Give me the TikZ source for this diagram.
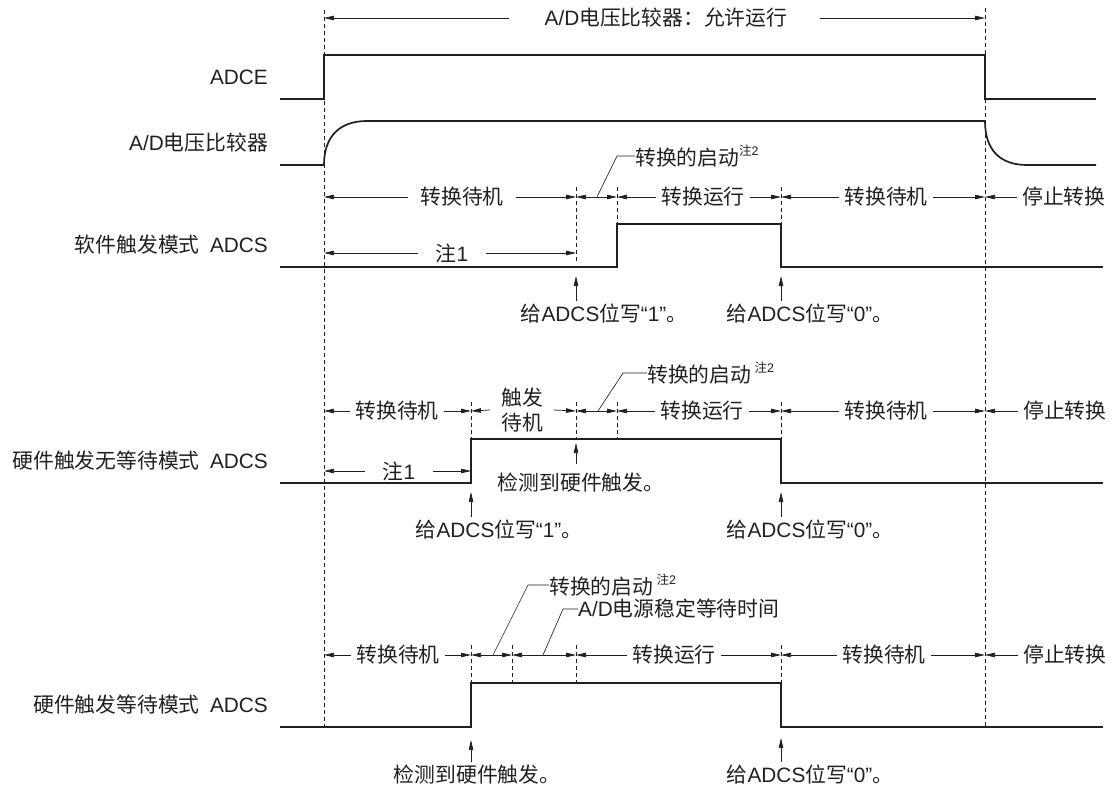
\documentclass[tikz,border=0pt]{standalone}
\usepackage{fontspec}
\setmainfont{Noto Sans CJK SC}
\newfontfamily\latinfont{Liberation Sans}
\usetikzlibrary{arrows.meta}
\definecolor{ink}{HTML}{231F20}
\newcommand{\lbfont}{\fontsize{20.8}{25}\selectfont}
\newcommand{\lt}[1]{{\latinfont #1}}
\newcommand{\noteii}{\raisebox{0.5em}{\fontsize{12.5}{12.5}\selectfont 注\lt{2}}}

\begin{document}
\begin{tikzpicture}[x=1pt,y=-1pt,
  sig/.style={draw=ink,line width=1.7pt},
  guide/.style={draw=ink,line width=0.8pt,dash pattern=on 4pt off 3pt},
  dim/.style={draw=ink,line width=0.75pt,-{Triangle[length=10pt,width=4.5pt]}},
  both/.style={draw=ink,line width=0.75pt,{Triangle[length=10pt,width=4.5pt]}-{Triangle[length=10pt,width=4.5pt]}},
  lead/.style={draw=ink,line width=0.65pt},
  lbl/.style={font=\lbfont,text=ink,inner sep=0pt},
  seg/.style={lbl,inner xsep=5pt},
  signame/.style={lbl,anchor=east}]
  \useasboundingbox (0,0) rectangle (1113,789);

  % signal names
  \node[signame] (nadce) at (268,77) {\lt{ADCE}};
  \node[signame] (ncmp) at (268,143) {\lt{A/D}电压比较器};
  \node[signame] (nsw) at (268,245) {软件触发模式\hspace{0.5em}\lt{ADCS}};
  \node[signame] (nhw) at (268,461) {硬件触发无等待模式\hspace{0.5em}\lt{ADCS}};
  \node[signame] (nhww) at (268,705) {硬件触发等待模式\hspace{0.5em}\lt{ADCS}};

  % guide lines
  \draw[guide] (324,10) -- (324,728);
  \draw[guide] (985,8) -- (985,728);
  \draw[guide] (576,187) -- (576,263);
  \foreach \x in {617,781} \draw[guide] (\x,187) -- (\x,224);
  \foreach \x in {471,576,617,781} \draw[guide] (\x,402) -- (\x,439);
  \foreach \x in {471,512,576,781} \draw[guide] (\x,645) -- (\x,683);

  % waveforms
  \draw[sig] (280,99) -- (324,99) -- (324,55) -- (985,55) -- (985,99) -- (1096,99);
  \draw[sig] (280,165) -- (324,165) .. controls (324,136) and (340,121) .. (367,121)
    -- (985,121) .. controls (985,150) and (1000,165) .. (1027,165) -- (1096,165);
  \draw[sig] (280,267) -- (617,267) -- (617,224) -- (781,224) -- (781,267) -- (1103,267);
  \draw[sig] (280,483) -- (471,483) -- (471,439) -- (781,439) -- (781,483) -- (1103,483);
  \draw[sig] (280,727) -- (471,727) -- (471,683) -- (781,683) -- (781,727) -- (1103,727);

  % enable span
  \coordinate (topl) at (324,18);
  \coordinate (topr) at (985,18);
  \node[seg] (run) at (666,18) {\lt{A/D}电压比较器：允许运行};
  \draw[dim] ([xshift=-30pt]run.west) -- (topl);
  \draw[dim] ([xshift=27pt]run.east) -- (topr);

  % software trigger
  \coordinate (a0) at (324,197); \coordinate (a1) at (576,197);
  \coordinate (a2) at (617,197); \coordinate (a3) at (781,197);
  \coordinate (a4) at (985,197); \coordinate (a12) at (597,197);
  \node[seg,inner xsep=12pt] (s1w) at (462,197) {转换待机};
  \node[seg] (s1r) at (703,197) {转换运行};
  \node[seg] (s1w2) at (886,197) {转换待机};
  \node[seg,anchor=west] (s1s) at (1017,197) {停止转换};
  \draw[dim] (s1w.west) -- (a0); \draw[dim] (s1w.east) -- (a1);
  \draw[both] (a1) -- (a2);
  \draw[dim] (s1r.west) -- (a2); \draw[dim] (s1r.east) -- (a3);
  \draw[dim] (s1w2.west) -- (a3); \draw[dim] (s1w2.east) -- (a4);
  \draw[dim] (s1s.west) -- (a4);
  \node[lbl,anchor=west] (s1st) at (635,156) {转换的启动\noteii};
  \draw[lead] (a12) -- ([xshift=-18pt]s1st.west) -- (s1st.west);
  \coordinate (n10) at (324,253); \coordinate (n11) at (576,253);
  \node[seg,inner xsep=18pt] (s1n) at (452,253) {注\lt{1}};
  \draw[dim] (s1n.west) -- (n10); \draw[dim] (s1n.east) -- (n11);
  \coordinate (w11) at (576,276); \coordinate (w10) at (781,276);
  \node[lbl] (s1b1) at (604,314) {给\lt{ADCS}位写\lt{“1”}。};
  \node[lbl] (s1b0) at (810,314) {给\lt{ADCS}位写\lt{“0”}。};
  \draw[dim] ([yshift=3pt]s1b1.north -| w11) -- (w11);
  \draw[dim] ([yshift=3pt]s1b0.north -| w10) -- (w10);

  % hardware trigger, no wait
  \coordinate (b0) at (324,411); \coordinate (b1) at (471,411);
  \coordinate (b2) at (576,411); \coordinate (b3) at (617,411);
  \coordinate (b4) at (781,411); \coordinate (b5) at (985,411);
  \coordinate (b23) at (598,411);
  \node[seg] (s2w) at (397,411) {转换待机};
  \node[seg,inner xsep=11pt,align=center] (s2t) at (522,410) {触发\\待机};
  \node[seg] (s2r) at (702,411) {转换运行};
  \node[seg] (s2w2) at (886,411) {转换待机};
  \node[seg,anchor=west] (s2s) at (1018,411) {停止转换};
  \draw[dim] (s2w.west) -- (b0); \draw[dim] (s2w.east) -- (b1);
  \draw[dim] (s2t.west) -- (b1); \draw[dim] (s2t.east) -- (b2);
  \draw[both] (b2) -- (b3);
  \draw[dim] (s2r.west) -- (b3); \draw[dim] (s2r.east) -- (b4);
  \draw[dim] (s2w2.west) -- (b4); \draw[dim] (s2w2.east) -- (b5);
  \draw[dim] (s2s.west) -- (b5);
  \node[lbl,anchor=west] (s2st) at (647,373) {转换的启动\,\noteii};
  \draw[lead] (b23) -- ([xshift=-24pt]s2st.west) -- (s2st.west);
  \coordinate (n20) at (324,471); \coordinate (n21) at (471,471);
  \node[seg,inner xsep=18pt] (s2n) at (399,471) {注\lt{1}};
  \draw[dim] (s2n.west) -- (n20); \draw[dim] (s2n.east) -- (n21);
  \coordinate (h2) at (576,443);
  \node[lbl] (s2h) at (581,483) {检测到硬件触发。};
  \draw[dim] ([yshift=9pt]s2h.north -| h2) -- (h2);
  \coordinate (w21) at (471,492); \coordinate (w20) at (781,492);
  \node[lbl] (s2b1) at (499,530) {给\lt{ADCS}位写\lt{“1”}。};
  \node[lbl] (s2b0) at (810,530) {给\lt{ADCS}位写\lt{“0”}。};
  \draw[dim] ([yshift=3pt]s2b1.north -| w21) -- (w21);
  \draw[dim] ([yshift=3pt]s2b0.north -| w20) -- (w20);

  % hardware trigger, wait
  \coordinate (d0) at (324,655); \coordinate (d1) at (471,655);
  \coordinate (d2) at (512,655); \coordinate (d3) at (576,655);
  \coordinate (d4) at (781,655); \coordinate (d5) at (985,655);
  \coordinate (d12) at (493,655); \coordinate (d23) at (543,655);
  \node[seg] (s3w) at (398,655) {转换待机};
  \node[seg] (s3r) at (674,655) {转换运行};
  \node[seg] (s3w2) at (884,655) {转换待机};
  \node[seg,anchor=west] (s3s) at (1018,655) {停止转换};
  \draw[dim] (s3w.west) -- (d0); \draw[dim] (s3w.east) -- (d1);
  \draw[both] (d1) -- (d2); \draw[both] (d2) -- (d3);
  \draw[dim] (s3r.west) -- (d3); \draw[dim] (s3r.east) -- (d4);
  \draw[dim] (s3w2.west) -- (d4); \draw[dim] (s3w2.east) -- (d5);
  \draw[dim] (s3s.west) -- (d5);
  \node[lbl,anchor=west] (s3st) at (549,585) {转换的启动\,\noteii};
  \draw[lead] (d12) -- ([xshift=-21pt]s3st.west) -- (s3st.west);
  \node[lbl,anchor=west] (s3pw) at (578,609) {\lt{A/D}电源稳定等待时间};
  \draw[lead] (d23) -- ([xshift=-15pt]s3pw.west) -- (s3pw.west);
  \coordinate (h3) at (471,740); \coordinate (w30) at (781,738);
  \node[lbl] (s3h) at (477,775) {检测到硬件触发。};
  \node[lbl] (s3b0) at (810,775) {给\lt{ADCS}位写\lt{“0”}。};
  \draw[dim] ([yshift=3pt]s3h.north -| h3) -- (h3);
  \draw[dim] ([yshift=3pt]s3b0.north -| w30) -- (w30);
\end{tikzpicture}
\end{document}
